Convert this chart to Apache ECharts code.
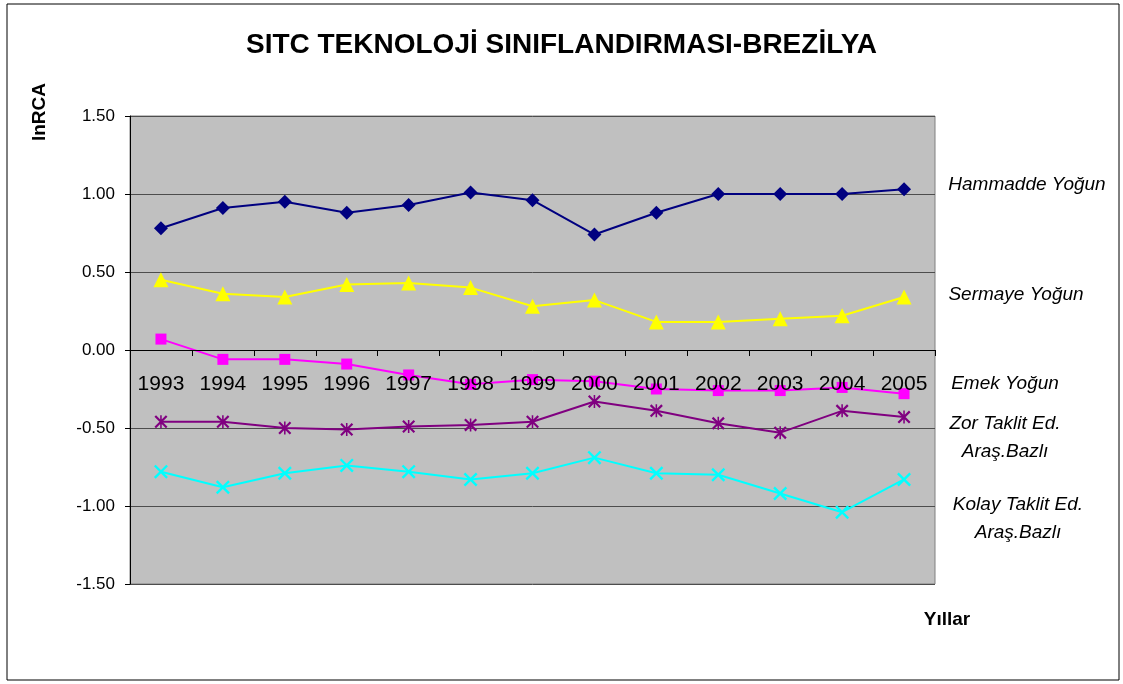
<!DOCTYPE html>
<html>
<head>
<meta charset="utf-8">
<script src="https://cdn.jsdelivr.net/npm/echarts@6/dist/echarts.min.js"></script>
<style>
  html, body { margin: 0; padding: 0; background: #fff; }
  #chart { width: 1123px; height: 684px; }
</style>
</head>
<body>
<div id="chart"></div>
<script>
// yıllar
var years = ['1993','1994','1995','1996','1997','1998','1999','2000','2001','2002','2003','2004','2005'];

// lnRCA değerleri
var hammadde = [0.78, 0.91, 0.95, 0.88, 0.93, 1.01, 0.96, 0.74, 0.88, 1.00, 1.00, 1.00, 1.03];
var sermaye  = [0.45, 0.36, 0.34, 0.42, 0.43, 0.40, 0.28, 0.32, 0.18, 0.18, 0.20, 0.22, 0.34];
var emek     = [0.07, -0.06, -0.06, -0.09, -0.16, -0.22, -0.19, -0.20, -0.25, -0.26, -0.26, -0.24, -0.28];
var zorTaklit   = [-0.46, -0.46, -0.50, -0.51, -0.49, -0.48, -0.46, -0.33, -0.39, -0.47, -0.53, -0.39, -0.43];
var kolayTaklit = [-0.78, -0.88, -0.79, -0.74, -0.78, -0.83, -0.79, -0.69, -0.79, -0.80, -0.92, -1.04, -0.83];

var seriesNames = ['Hammadde Yoğun', 'Sermaye Yoğun', 'Emek Yoğun', 'Zor Taklit Ed.\nAraş.Bazlı', 'Kolay Taklit Ed.\nAraş.Bazlı'];

// excel tarzı işaretler
var xMark = 'path://M0,1.2 L1.2,0 L10,8.8 L8.8,10 Z M8.8,0 L10,1.2 L1.2,10 L0,8.8 Z';
var starMark = 'path://M0,1.2 L1.2,0 L10,8.8 L8.8,10 Z M8.8,0 L10,1.2 L1.2,10 L0,8.8 Z M4.4,0 L5.6,0 L5.6,10 L4.4,10 Z';

var myChart = echarts.init(document.getElementById('chart'));

function line(name, data, color, symbol, size) {
  return {
    name: name,
    type: 'line',
    data: data,
    symbol: symbol,
    symbolSize: size,
    lineStyle: { color: color, width: 2 },
    itemStyle: { color: color },
    animation: false
  };
}

function label(x, y, txt) {
  return { type: 'text', x: x, y: y,
    style: { text: txt, fontSize: 19, fontStyle: 'italic', fill: '#000', lineHeight: 28,
             textAlign: 'center', textVerticalAlign: 'middle', fontFamily: 'Liberation Sans, Arial' } };
}

myChart.setOption({
  backgroundColor: '#fff',
  textStyle: { fontFamily: 'Liberation Sans, Arial, sans-serif' },
  title: {
    text: 'SITC TEKNOLOJİ SINIFLANDIRMASI-BREZİLYA',
    left: 'center',
    top: 26,
    textStyle: { fontSize: 28, fontWeight: 'bold', color: '#000' }
  },
  grid: {
    left: 130, top: 116, right: 188, bottom: 100,
    show: true,
    backgroundColor: '#c0c0c0',
    borderColor: '#808080',
    borderWidth: 1
  },
  xAxis: {
    type: 'category',
    data: years,
    boundaryGap: true,
    z: 5, // yıl etiketleri çizgilerin üstünde
    offset: -234, // eksen 0 çizgisinde
    axisLine: { onZero: false, lineStyle: { color: '#000', width: 1 } },
    axisTick: { show: true, length: 6, lineStyle: { color: '#000' } },
    axisLabel: { fontSize: 21, color: '#000', margin: 24 },
    splitLine: { show: false }
  },
  yAxis: {
    type: 'value',
    min: -1.5,
    max: 1.5,
    interval: 0.5,
    axisLine: { show: true, lineStyle: { color: '#000' } },
    axisTick: { show: true, length: 5, lineStyle: { color: '#000' } },
    axisLabel: {
      fontSize: 17, color: '#000', margin: 15,
      formatter: function (v) { return v.toFixed(2); }
    },
    splitLine: { show: true, lineStyle: { color: '#4d4d4d', width: 1 } }
  },
  series: [
    line(seriesNames[0], hammadde, '#000080', 'diamond', 14),
    line(seriesNames[1], sermaye, '#ffff00', 'triangle', 15),
    line(seriesNames[2], emek, '#ff00ff', 'rect', 11),
    line(seriesNames[3], zorTaklit, '#800080', starMark, 13),
    line(seriesNames[4], kolayTaklit, '#00ffff', xMark, 14)
  ],
  graphic: [
    { type: 'rect', shape: { x: 7, y: 4, width: 1112, height: 676 },
      style: { fill: 'none', stroke: '#000', lineWidth: 1 }, silent: true },
    { type: 'text', x: 40, y: 112, rotation: Math.PI / 2,
      style: { text: 'lnRCA', fontSize: 19, fontWeight: 'bold', fill: '#000',
               textAlign: 'center', textVerticalAlign: 'middle', fontFamily: 'Liberation Sans, Arial' } },
    { type: 'text', x: 947, y: 620,
      style: { text: 'Yıllar', fontSize: 19, fontWeight: 'bold', fill: '#000',
               textAlign: 'center', textVerticalAlign: 'middle', fontFamily: 'Liberation Sans, Arial' } },
    label(1027, 185, seriesNames[0]),
    label(1016, 295, seriesNames[1]),
    label(1005, 384, seriesNames[2]),
    label(1005, 438, seriesNames[3]),
    label(1018, 519, seriesNames[4])
  ]
});
</script>
</body>
</html>
